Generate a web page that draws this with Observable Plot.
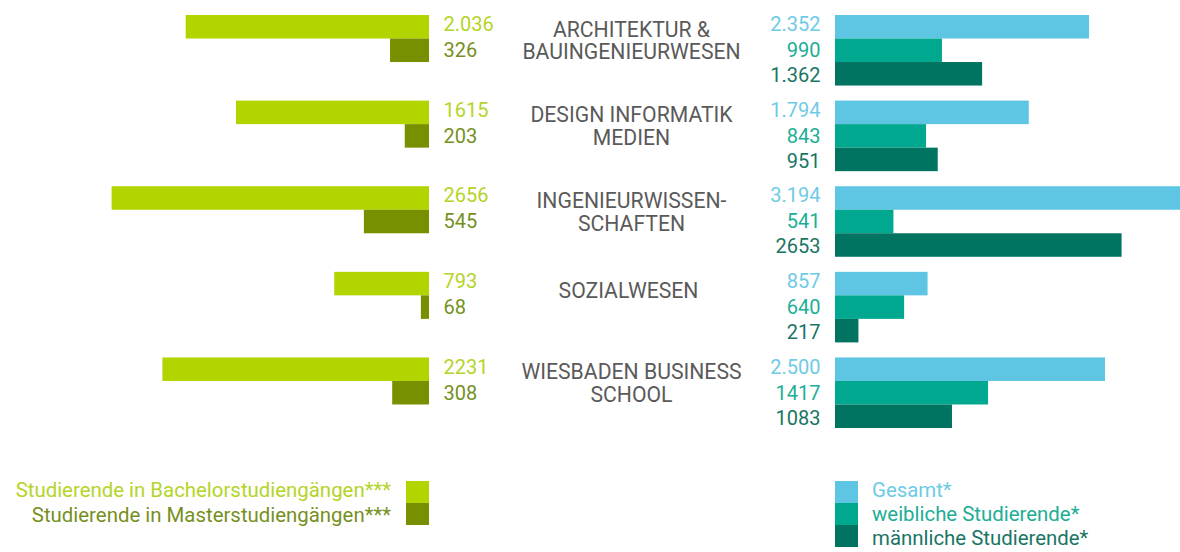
<!DOCTYPE html>
<html><head><meta charset="utf-8">
<script src="https://cdn.jsdelivr.net/npm/d3@7"></script>
<script src="https://cdn.jsdelivr.net/npm/@observablehq/plot@0.6"></script>
<style>
body{margin:0;background:#fff;font-family:Roboto,sans-serif;}
#wrap{position:relative;width:1180px;height:552px;overflow:hidden;background:#fff;}
#left,#right{position:absolute;top:0;}
#left{left:0}
#right{left:690px}
.leg{position:absolute;font-size:20.4px;line-height:24px;height:24px;white-space:nowrap;font-family:Roboto,sans-serif;}
.sw{position:absolute;width:23px;}
</style></head><body><div id="wrap"><div id="left"></div><div id="right"></div></div>
<script>
// ---- data ----
const categories = ["ARCHITEKTUR &\nBAUINGENIEURWESEN", "DESIGN INFORMATIK\nMEDIEN", "INGENIEURWISSEN-\nSCHAFTEN", "SOZIALWESEN", "WIESBADEN BUSINESS\nSCHOOL"];
const bachelor = [2036, 1615, 2656, 793, 2231];
const bachelorLabels = ["2.036", "1615", "2656", "793", "2231"];
const master = [326, 203, 545, 68, 308];
const masterLabels = ["326", "203", "545", "68", "308"];
const gesamt = [2352, 1794, 3194, 857, 2500];
const gesamtLabels = ["2.352", "1.794", "3.194", "857", "2.500"];
const weiblich = [990, 843, 541, 640, 1417];
const weiblichLabels = ["990", "843", "541", "640", "1417"];
const maennlich = [1362, 951, 2653, 217, 1083];
const maennlichLabels = ["1.362", "951", "2653", "217", "1083"];
const leftLegend = ["Studierende in Bachelorstudiengängen***", "Studierende in Masterstudiengängen***"];
const rightLegend = ["Gesamt*", "weibliche Studierende*", "männliche Studierende*"];

// ---- styles ----
const C = {
  bachelor: "#b2d500", master: "#779000",
  gesamt: "#5ec5e2", weiblich: "#00a88f", maennlich: "#007460"
};
const T = {
  bachelor: "#b4d428", master: "#76901e",
  gesamt: "#6dcbe5", weiblich: "#20ae96", maennlich: "#197565"
};

const rowsOf = (vals, labels, row) => categories.map((c, i) => ({cat: c, row, value: vals[i], label: labels[i]}));
const bRows = rowsOf(bachelor, bachelorLabels, "r1");
const mRows = rowsOf(master, masterLabels, "r2");
const gRows = rowsOf(gesamt, gesamtLabels, "r1");
const wRows = rowsOf(weiblich, weiblichLabels, "r2");
const nRows = rowsOf(maennlich, maennlichLabels, "r3");
const catRows = categories.map(c => ({cat: c, label: c}));

const common = {
  height: 440, marginTop: 15, marginBottom: 12,
  y: {domain: ["r1", "r2", "r3"], padding: 0, round: false, axis: null},
  fy: {domain: categories, paddingInner: 0.176, paddingOuter: 0, round: false, axis: null, label: null},
  style: {fontFamily: "Roboto, sans-serif", background: "transparent", overflow: "visible"}
};
const txt = {fontSize: 20, fontFamily: "Roboto, sans-serif", lineAnchor: "middle"};
const catTxt = {fy: "cat", text: "label", frameAnchor: "top", lineAnchor: "top", textAnchor: "middle", fontSize: 21.2, fontFamily: "Roboto, sans-serif", fill: "#5a5a5a"};

const left = Plot.plot({
  ...common,
  width: 690, marginLeft: 570, marginRight: 0,
  x: {domain: [0, 3590], range: [429, 0], axis: null},
  marks: [
    Plot.barX(bRows, {x: "value", y: "row", fy: "cat", fill: C.bachelor}),
    Plot.barX(mRows, {x: "value", y: "row", fy: "cat", fill: C.master}),
    Plot.text(bRows, {x: 0, y: "row", fy: "cat", text: "label", textAnchor: "start", dx: 14, dy: -2.5, fill: T.bachelor, ...txt}),
    Plot.text(mRows, {x: 0, y: "row", fy: "cat", text: "label", textAnchor: "start", dx: 14, dy: 0, fill: T.master, ...txt}),
    Plot.text(catRows.filter(d => d.label.includes("\n")), {...catTxt, dx: 1, dy: 5, lineHeight: 1.07}),
    Plot.text(catRows.filter(d => !d.label.includes("\n")), {...catTxt, dx: -2, dy: 11})
  ]
});
document.getElementById("left").append(left);

const right = Plot.plot({
  ...common,
  width: 490, marginLeft: 0, marginRight: 0,
  x: {domain: [0, 3194], range: [145, 490], axis: null},
  marks: [
    Plot.barX(gRows, {x: "value", y: "row", fy: "cat", fill: C.gesamt}),
    Plot.barX(wRows, {x: "value", y: "row", fy: "cat", fill: C.weiblich}),
    Plot.barX(nRows, {x: "value", y: "row", fy: "cat", fill: C.maennlich}),
    Plot.text(gRows, {x: 0, y: "row", fy: "cat", text: "label", textAnchor: "end", dx: -15, dy: -2.5, fill: T.gesamt, ...txt}),
    Plot.text(wRows, {x: 0, y: "row", fy: "cat", text: "label", textAnchor: "end", dx: -15, dy: 0, fill: T.weiblich, ...txt}),
    Plot.text(nRows, {x: 0, y: "row", fy: "cat", text: "label", textAnchor: "end", dx: -15, dy: 1.5, fill: T.maennlich, ...txt})
  ]
});
document.getElementById("right").append(right);

// ---- legends ----
const wrap = document.getElementById("wrap");
function add(cls, style, text) {
  const d = document.createElement("div");
  d.className = cls;
  Object.assign(d.style, style);
  if (text) d.textContent = text;
  wrap.append(d);
}
const lc = [C.bachelor, C.master], lt = [T.bachelor, T.master];
leftLegend.forEach((t, i) => {
  add("sw", {left: "406px", top: (481 + i * 22) + "px", height: "22px", background: lc[i]});
  add("leg", {right: (1180 - 391) + "px", top: (478 + i * 25) + "px", color: lt[i], textAlign: "right"}, t);
});
const rc = [C.gesamt, C.weiblich, C.maennlich], rt = [T.gesamt, T.weiblich, T.maennlich];
rightLegend.forEach((t, i) => {
  add("sw", {left: "835px", top: (481 + i * 22) + "px", height: "22px", background: rc[i]});
  add("leg", {left: "872px", top: (478 + i * 24) + "px", color: rt[i]}, t);
});
</script>
</body></html>
